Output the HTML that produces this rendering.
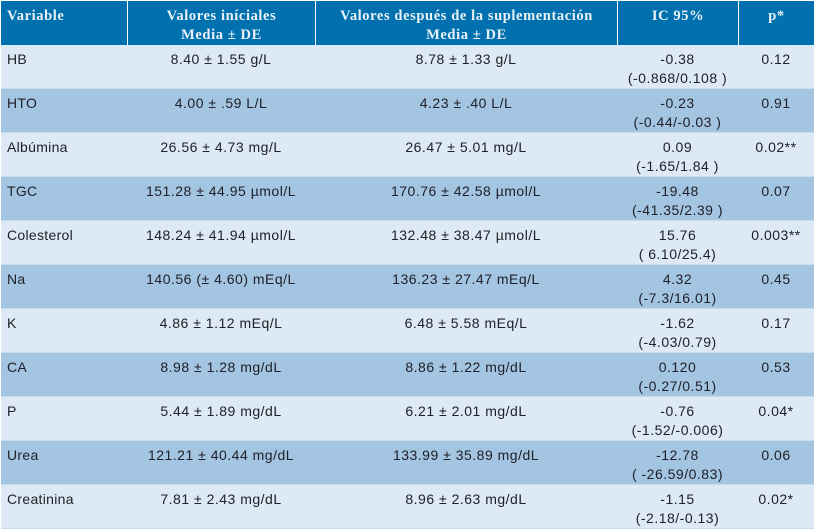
<!DOCTYPE html>
<html lang="es">
<head>
<meta charset="utf-8">
<title>Tabla de variables</title>
<style>
html,body{margin:0;padding:0;background:#fff;width:815px;height:529px;overflow:hidden}
table{position:absolute;left:1px;top:1px;width:813px;border-collapse:separate;border-spacing:0;table-layout:fixed;font-family:"Liberation Sans","DejaVu Sans",sans-serif;font-size:14px;color:#202028;letter-spacing:.5px}
th{background:#0071ae;color:#e9f1f7;font-family:"Liberation Serif",serif;font-size:14.5px;font-weight:bold;height:44px;padding:0;line-height:19px;vertical-align:top;padding-top:6px;box-sizing:border-box;border-left:1px solid #fff;letter-spacing:.6px}
th:first-child{border-left:0;text-align:left;padding-left:6px}
td{height:44px;box-sizing:border-box;padding:5px 0 0;line-height:19px;vertical-align:top;text-align:center;border-bottom:1px solid #c9dcec}
td:first-child{text-align:left;padding-left:6px;letter-spacing:.3px}
tr.a td{background:#dde9f5}
tr.b td{background:#a3c5e2}
</style>
</head>
<body>
<table>
<colgroup><col style="width:126px"><col style="width:188px"><col style="width:302px"><col style="width:121px"><col style="width:76px"></colgroup>
<thead>
<tr>
<th>Variable</th>
<th>Valores iníciales<br>Media ± DE</th>
<th>Valores después de la suplementación<br>Media ± DE</th>
<th>IC 95%</th>
<th>p*</th>
</tr>
</thead>
<tbody>
<tr class="a"><td>HB</td><td>8.40 ± 1.55 g/L</td><td>8.78 ± 1.33 g/L</td><td>-0.38<br>(-0.868/0.108 )</td><td>0.12</td></tr>
<tr class="b"><td>HTO</td><td>4.00 ± .59 L/L</td><td>4.23 ± .40 L/L</td><td>-0.23<br>(-0.44/-0.03 )</td><td>0.91</td></tr>
<tr class="a"><td>Albúmina</td><td>26.56 ± 4.73 mg/L</td><td>26.47 ± 5.01 mg/L</td><td>0.09<br>(-1.65/1.84 )</td><td>0.02**</td></tr>
<tr class="b"><td>TGC</td><td>151.28 ± 44.95 µmol/L</td><td>170.76 ± 42.58 µmol/L</td><td>-19.48<br>(-41.35/2.39 )</td><td>0.07</td></tr>
<tr class="a"><td>Colesterol</td><td>148.24 ± 41.94 µmol/L</td><td>132.48 ± 38.47 µmol/L</td><td>15.76<br>( 6.10/25.4)</td><td>0.003**</td></tr>
<tr class="b"><td>Na</td><td>140.56 (± 4.60) mEq/L</td><td>136.23 ± 27.47 mEq/L</td><td>4.32<br>(-7.3/16.01)</td><td>0.45</td></tr>
<tr class="a"><td>K</td><td>4.86 ± 1.12 mEq/L</td><td>6.48 ± 5.58 mEq/L</td><td>-1.62<br>(-4.03/0.79)</td><td>0.17</td></tr>
<tr class="b"><td>CA</td><td>8.98 ± 1.28 mg/dL</td><td>8.86 ± 1.22 mg/dL</td><td>0.120<br>(-0.27/0.51)</td><td>0.53</td></tr>
<tr class="a"><td>P</td><td>5.44 ± 1.89 mg/dL</td><td>6.21 ± 2.01 mg/dL</td><td>-0.76<br>(-1.52/-0.006)</td><td>0.04*</td></tr>
<tr class="b"><td>Urea</td><td>121.21 ± 40.44 mg/dL</td><td>133.99 ± 35.89 mg/dL</td><td>-12.78<br>( -26.59/0.83)</td><td>0.06</td></tr>
<tr class="a"><td>Creatinina</td><td>7.81 ± 2.43 mg/dL</td><td>8.96 ± 2.63 mg/dL</td><td>-1.15<br>(-2.18/-0.13)</td><td>0.02*</td></tr>
</tbody>
</table>
</body>
</html>
